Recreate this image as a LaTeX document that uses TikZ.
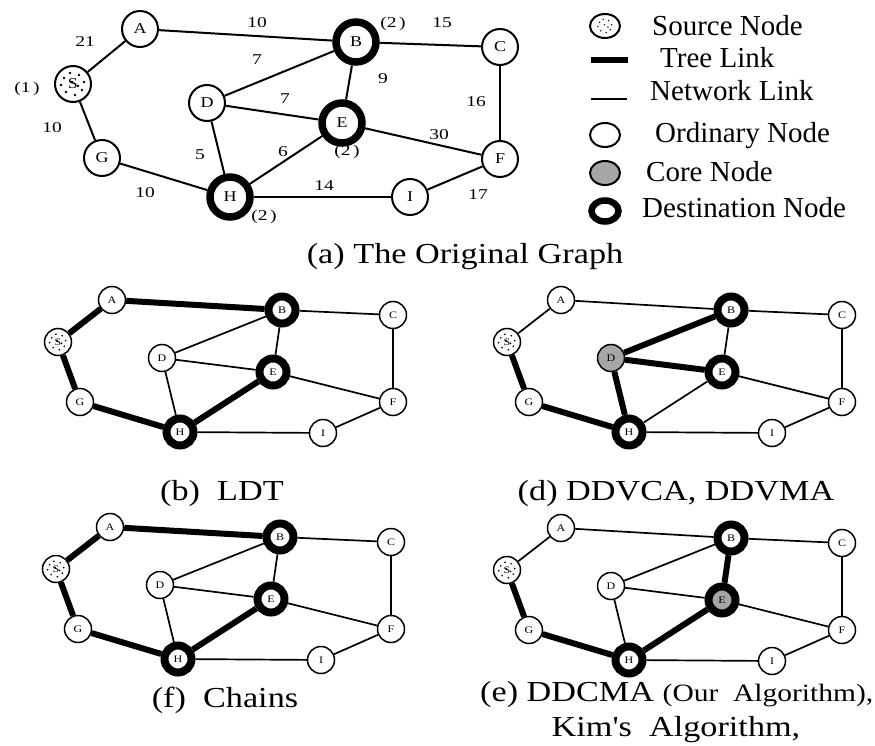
\documentclass[tikz,border=0pt]{standalone}
\usepackage{fontspec}
\setmainfont{Liberation Serif}
\newfontfamily\numfont[FakeStretch=1.3]{Liberation Serif}
\newfontfamily\letfont[FakeStretch=1.2]{Liberation Serif}
\newfontfamily\capfont[FakeStretch=1.18]{Liberation Serif}
\usetikzlibrary{shapes.geometric}
\newcommand\srcdots[2]{%
\foreach \dx/\dy in {-9/6,-3/11,6/9,11/2,9/-6,2/-11,-7/-8,-12/-1,-1/2,5/-2}
  \fill ([xshift=\dx*#2 pt,yshift=\dy*#2 pt]#1.center) circle (#2*1.3pt);}
\newcommand\subg[5]{%
\begin{scope}[shift={#2}]
\node[sord] (#1A) at (112,300) {A};
\node[sdest] (#1B) at (282,310) {B};
\node[sord] (#1C) at (393,315) {C};
\node[sord] (#1S) at (58,342) {S};
\node[#3] (#1D) at (162,358) {D};
\node[#4] (#1E) at (273,372) {E};
\node[sord] (#1G) at (80,402) {G};
\node[sord] (#1F) at (393,402) {F};
\node[sdest] (#1H) at (180,432) {H};
\node[sord] (#1I) at (323,433) {I};
\end{scope}
\srcdots{#1S}{0.7}
\foreach \u/\v in {S/A,A/B,S/G,G/H,D/B,D/E,D/H,H/E,B/E,B/C,C/F,E/F,H/I,I/F}
  \draw[snet] (#1\u) -- (#1\v);
\foreach \u/\v in {#5}
  \draw[tree] (#1\u) -- (#1\v);
}
\begin{document}
\begin{tikzpicture}[x=1pt,y=-1pt,
  tord/.style={circle,draw,fill=white,line width=2pt,minimum size=36pt,inner sep=0pt,font=\letfont\fontsize{15}{15}\selectfont},
  tdest/.style={tord,line width=7.5pt,minimum size=40pt},
  sord/.style={circle,draw,fill=white,line width=1.5pt,minimum size=27pt,inner sep=0pt,font=\letfont\fontsize{10}{10}\selectfont},
  sdest/.style={sord,line width=8pt,minimum size=27pt},
  score/.style={sord,fill=black!35},
  sdcore/.style={sdest,fill=black!35},
  net/.style={line width=2pt},
  snet/.style={line width=1.7pt},
  tree/.style={line width=6pt},
  lbl/.style={inner sep=0pt,font=\numfont\fontsize{15}{15}\selectfont},
  leg/.style={anchor=base west,inner sep=0pt,font=\fontsize{29}{29}\selectfont},
  captxt/.style={anchor=base,inner sep=0pt,font=\capfont\fontsize{29}{29}\selectfont},
  lell/.style={ellipse,draw,line width=2pt,minimum width=30pt,minimum height=24pt,inner sep=0pt}
]
\useasboundingbox (0,0) rectangle (875,746);
% ---------- (a) original graph ----------
\node[tord] (A) at (140,29) {A};
\node[tdest] (B) at (356,42) {B};
\node[tord] (C) at (500,47) {C};
\node[tord] (S) at (73,84) {S};
\node[tord] (D) at (207,103) {D};
\node[tdest] (E) at (342,123) {E};
\node[tord] (G) at (102,158) {G};
\node[tord] (F) at (500,159) {F};
\node[tdest] (H) at (230,197) {H};
\node[tord] (I) at (410,197) {I};
\srcdots{S}{1}
\foreach \u/\v in {S/A,A/B,S/G,G/H,D/B,D/E,D/H,H/E,B/E,B/C,C/F,E/F,H/I,I/F}
  \draw[net] (\u) -- (\v);
\node[lbl] (wAB) at (257,23) {10};
\node[lbl] (wSA) at (85,42) {21};
\node[lbl] (wS) at (27,89) {(1\,)};
\node[lbl] (wSG) at (52,128) {10};
\node[lbl] (wDB) at (257,60) {7};
\node[lbl] (wDE) at (285,99) {7};
\node[lbl] (wDH) at (200,155) {5};
\node[lbl] (wHE) at (283,152) {6};
\node[lbl] (wGH) at (145,193) {10};
\node[lbl] (wH) at (264,217) {(2\,)};
\node[lbl] (wB) at (393,24) {(2\,)};
\node[lbl] (wBC) at (442,23) {15};
\node[lbl] (wBE) at (383,79) {9};
\node[lbl] (wCF) at (476,102) {16};
\node[lbl] (wE) at (347,152) {(2\,)};
\node[lbl] (wEF) at (439,135) {30};
\node[lbl] (wHI) at (324,186) {14};
\node[lbl] (wIF) at (478,195) {17};
% ---------- legend ----------
\node[lell] (Ls) at (605,26) {};
\srcdots{Ls}{0.6}
\coordinate (Lt1) at (591,60);
\coordinate (Lt2) at (628,60);
\draw[line width=6pt] (Lt1) -- (Lt2);
\coordinate (Ln1) at (591,99);
\coordinate (Ln2) at (627,99);
\draw[line width=2pt] (Ln1) -- (Ln2);
\node[lell] (Lo) at (605,135) {};
\node[lell,fill=black!35] (Lc) at (605,173) {};
\node[lell,line width=6.5pt,minimum width=27pt,minimum height=21pt] (Ld) at (605,211) {};
\node[leg] (Tsrc) at (652,36) {Source Node};
\node[leg] (Ttree) at (660,68) {Tree Link};
\node[leg] (Tnet) at (650,101) {Network Link};
\node[leg] (Tord) at (655,143) {Ordinary Node};
\node[leg] (Tcore) at (646,182) {Core Node};
\node[leg] (Tdest) at (642,218) {Destination Node};
\node[captxt] (capa) at (465,263) {(a) The Original Graph};
% ---------- sub graphs ----------
\subg{b}{(0,0)}{sord}{sdest}{S/A,A/B,S/G,G/H,H/E}
\subg{d}{(449,0)}{score}{sdest}{S/G,G/H,H/D,D/B,D/E}
\subg{f}{(-2,227)}{sord}{sdest}{S/A,A/B,S/G,G/H,H/E}
\subg{e}{(449,228)}{sord}{sdcore}{S/G,G/H,H/E,E/B}
\node[captxt] (capb) at (222,500) {(b)\ \ LDT};
\node[captxt] (capd) at (676,500) {(d) DDVCA, DDVMA};
\node[captxt] (capf) at (225,707) {(f)\ \ Chains};
\node[captxt,anchor=base west] (cape) at (480,701) {(e) DDCMA {\fontsize{25}{25}\selectfont(Our\ \ Algorithm),}};
\node[captxt] (cape2) at (676,736) {Kim's\ \ Algorithm,};
\end{tikzpicture}
\end{document}
